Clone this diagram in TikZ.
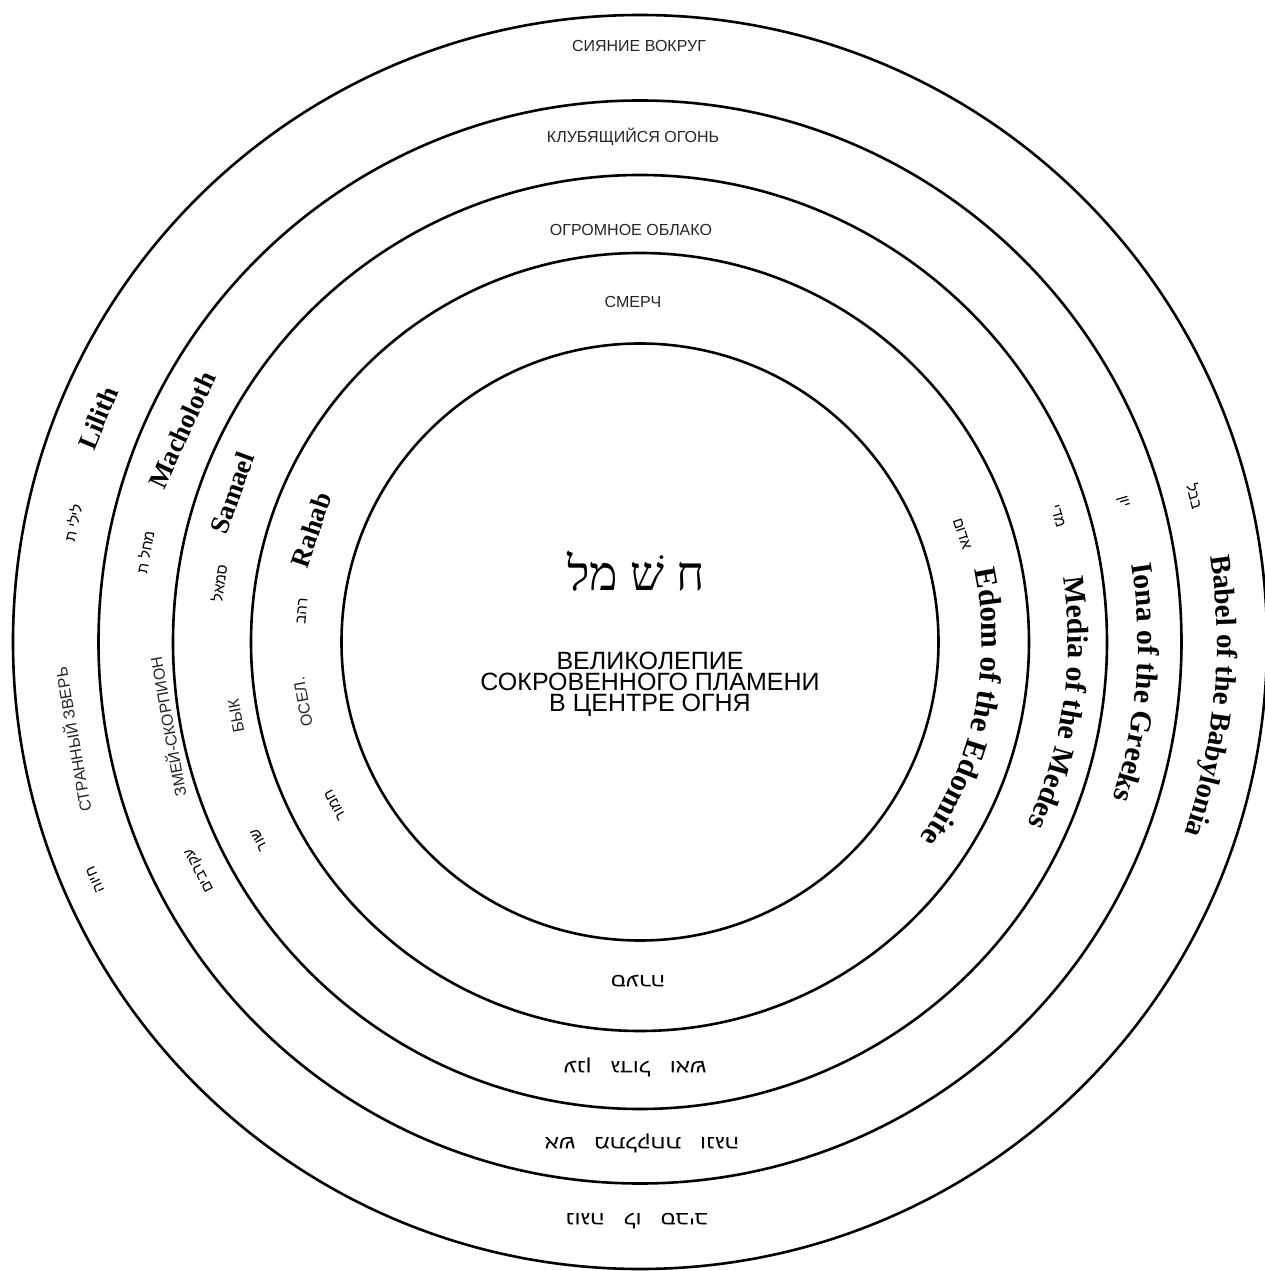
\documentclass[tikz,border=0pt]{standalone}
\usepackage{fontspec}
\usetikzlibrary{decorations.text}
\TeXXeTstate=1
\newfontfamily\rusfont{Liberation Sans}
\newfontfamily\serfont{Liberation Serif}
\newfontfamily\hebfont[Script=Hebrew]{Liberation Sans}
\newfontfamily\hebwide[Script=Hebrew,FakeStretch=1.2]{Liberation Sans}
\newfontfamily\hebser[Script=Hebrew]{Liberation Serif}
\tikzset{
  ring/.style={draw=black, line width=2.6pt},
  ruslab/.style={font=\rusfont\fontsize{16}{16}\selectfont, text=black!85, inner sep=0pt},
  englab/.style={font=\serfont\bfseries\fontsize{27}{27}\selectfont, inner sep=0pt},
  heblab/.style={font=\hebfont\fontsize{15}{15}\selectfont, inner sep=0pt},
  hebbot/.style={font=\hebwide\fontsize{19}{19}\selectfont, inner sep=0pt, rotate=180},
  arclab/.style n args={2}{decorate, decoration={text along path, text align=center,
      text={|\serfont\bfseries\fontsize{#2}{#2}\selectfont|#1}}}
}
\begin{document}
\begin{tikzpicture}[x=1pt,y=1pt]
\useasboundingbox (-640,-629) rectangle (625,642);
\fill[white] (-640,-629) rectangle (625,642);
% rings
\draw[ring] (0,0) circle[radius=627pt];
\draw[ring] (0,0) circle[radius=541.5pt];
\draw[ring] (0,0) circle[radius=467pt];
\draw[ring] (0,0) circle[radius=389pt];
\draw[ring] (0,0) circle[radius=298.5pt];
% top labels
\node[ruslab] (siyanie) at (-1,596) {СИЯНИЕ ВОКРУГ};
\node[ruslab] (klub) at (-7,505) {КЛУБЯЩИЙСЯ ОГОНЬ};
\node[ruslab] (oblako) at (-9,412) {ОГРОМНОЕ ОБЛАКО};
\node[ruslab] (smerch) at (-7,340) {СМЕРЧ};
% centre
\node[font=\hebser\fontsize{48}{48}\selectfont, inner sep=0pt] (chashmal) at (-4,71) {\beginR ח שׁ מל\endR};
\node[font=\rusfont\fontsize{25}{21}\selectfont, align=center, inner sep=0pt] (centre) at (10,-42)
  {ВЕЛИКОЛЕПИЕ\\СОКРОВЕННОГО ПЛАМЕНИ\\В ЦЕНТРЕ ОГНЯ};
% left: ring 1
\node[englab, rotate=67.5] (lilith) at (-542,224) {Lilith};
\node[heblab, rotate=78.1] (lilithh) at (-567,119) {\beginR לילי ת\endR};
\node[ruslab, rotate=99.8] (zver) at (-568,-98) {СТРАННЫЙ ЗВЕРЬ};
\node[heblab, rotate=113.6] (zverh) at (-545,-238) {\beginR חיוה\endR};
% left: ring 2
\node[englab, rotate=65.2] (macholoth) at (-458,212) {Macholoth};
\node[heblab, rotate=79.7] (macholothh) at (-495,90) {\beginR מחל ת\endR};
\node[ruslab, rotate=100.2] (zmei) at (-473,-85) {ЗМЕЙ-СКОРПИОН};
\node[heblab, rotate=117.4] (zmeih) at (-440,-228) {\beginR עקרבים\endR};
% left: ring 3
\node[englab, rotate=69.9] (samael) at (-408,149) {Samael};
\node[heblab, rotate=82] (samaelh) at (-421,59) {\beginR סמאל\endR};
\node[ruslab, rotate=100.4] (byk) at (-404,-74) {БЫК};
\node[heblab, rotate=117.5] (bykh) at (-381,-198) {\beginR שור\endR};
% left: ring 4
\node[englab, rotate=71.2] (rahab) at (-329,112) {Rahab};
\node[heblab, rotate=84.8] (rahabh) at (-338,31) {\beginR רהב\endR};
\node[ruslab, rotate=100.1] (osel) at (-337,-60) {ОСЕЛ.};
\node[heblab, rotate=118.1] (oselh) at (-305,-163) {\beginR חמור\endR};
% right: Hebrew
\node[heblab, rotate=-75.3] (babelh) at (555,146) {\beginR בבל\endR};
\node[heblab, rotate=-73.8] (ionah) at (483,140) {\beginR יון\endR};
\node[heblab, rotate=-73.2] (mediah) at (418,126) {\beginR מדי\endR};
\node[heblab, rotate=-71.6] (edomh) at (322,108) {\beginR אדום\endR};
% right: English along the rings
\path[arclab={Babel of the Babylonia}{29}] (54.6:577pt) arc[start angle=54.6, end angle=-65.4, radius=577pt];
\path[arclab={Iona of the Greeks}{30}] (55.3:498pt) arc[start angle=55.3, end angle=-64.7, radius=498pt];
\path[arclab={Media of the Medes}{30}] (51.8:428pt) arc[start angle=51.8, end angle=-68.2, radius=428pt];
\path[arclab={Edom of the Edomite}{31}] (48.6:342pt) arc[start angle=48.6, end angle=-71.4, radius=342pt];
% bottom Hebrew
\node[hebbot] (sea) at (-2,-339) {\beginR סערה\endR};
\node[hebbot] (anan) at (-5,-425) {\beginR ענן\quad גדול\quad ואש\endR};
\node[hebbot] (esh) at (2,-501) {\beginR אש\quad מתלקחת\quad ונגה\endR};
\node[hebbot] (noga) at (-3,-579) {\beginR נוגה\quad לו\quad סביב\endR};
\end{tikzpicture}
\end{document}
